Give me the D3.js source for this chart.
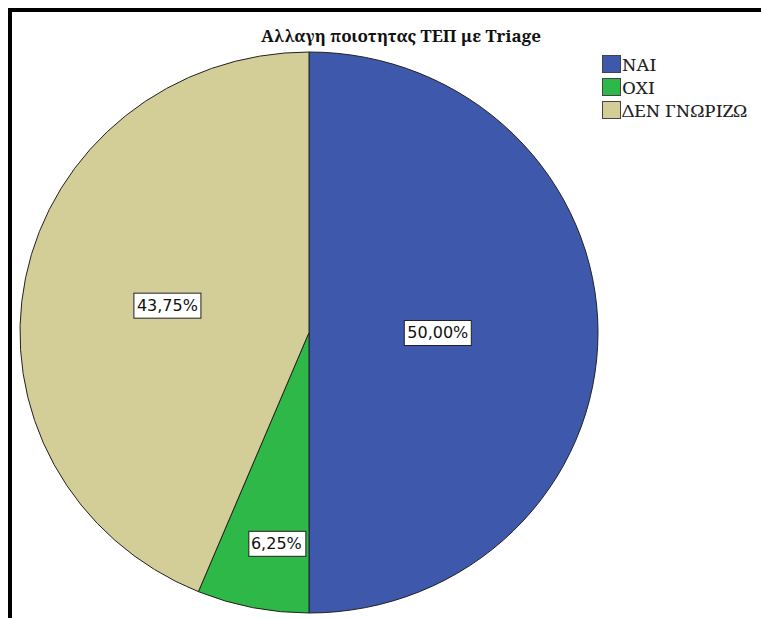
<!DOCTYPE html>
<html>
<head>
<meta charset="utf-8">
<script src="https://cdn.jsdelivr.net/npm/d3@7"></script>
<style>
  html, body { margin: 0; padding: 0; background: #fff; }
  svg { display: block; }
</style>
</head>
<body>
<svg id="chart" width="762" height="618"></svg>
<script>
// Survey answers: change in ED quality with Triage
const title = "Αλλαγη ποιοτητας ΤΕΠ με Triage";
const categories = ["ΝΑΙ", "ΟΧΙ", "ΔΕΝ ΓΝΩΡΙΖΩ"];
const percents = [50.00, 6.25, 43.75];
const colors = ["#3e58ac", "#2eb848", "#d3ce97"];

const svg = d3.select("#chart");
const W = 762, H = 618;
const serif = "'Noto Serif', 'DejaVu Serif', 'FreeSerif', 'Liberation Serif', serif";

// Frame (top and left rules)
svg.append("path")
  .attr("d", `M10,${H} V10 H761`)
  .attr("fill", "none")
  .attr("stroke", "#000")
  .attr("stroke-width", 4);

// Title, sized to span its slot above the pie
const titleText = svg.append("text")
  .attr("x", 401)
  .attr("y", 42)
  .attr("text-anchor", "middle")
  .attr("font-family", serif)
  .attr("font-weight", "bold")
  .attr("font-size", 15)
  .attr("fill", "#111")
  .text(title);
{
  const w = titleText.node().getBBox().width;
  const fs = Math.max(13, Math.min(17, 15 * 287 / w));
  titleText.attr("font-size", fs);
}

// Pie geometry (slightly elliptical plot area)
const cx = 309, cy = 332.5, rx = 289, ry = 280.5;
const sy = ry / rx;

const pie = d3.pie().sort(null).value(d => d);
const arcs = pie(percents);
const arc = d3.arc().innerRadius(0).outerRadius(rx);

const pieG = svg.append("g")
  .attr("transform", `translate(${cx},${cy}) scale(1,${sy})`);

pieG.selectAll("path.slice")
  .data(arcs)
  .join("path")
  .attr("class", "slice")
  .attr("d", arc)
  .attr("fill", (d, i) => colors[i])
  .attr("stroke", "#222")
  .attr("stroke-width", 1)
  .attr("vector-effect", "non-scaling-stroke");

// Percentage labels, placed near each sector's centroid
const fmt = v => d3.format(".2f")(v).replace(".", ",") + "%";
function labelPoint(d) {
  const theta = d.endAngle - d.startAngle;
  const mid = (d.startAngle + d.endAngle) / 2;
  let k = 4 * Math.sin(theta / 2) / (3 * theta) * 1.05;
  let a = mid;
  if (theta < 0.2 * Math.PI) { k = 0.76; a = d.startAngle + theta * 0.38; }
  return [cx + Math.sin(a) * rx * k, cy - Math.cos(a) * ry * k];
}

const labels = svg.append("g").selectAll("g")
  .data(arcs)
  .join("g")
  .attr("transform", d => { const p = labelPoint(d); return `translate(${p[0]},${p[1]})`; });

labels.append("rect")
  .attr("fill", "#fff")
  .attr("stroke", "#222")
  .attr("stroke-width", 1);

const texts = labels.append("text")
  .attr("text-anchor", "middle")
  .attr("dy", "0.36em")
  .attr("font-family", "'DejaVu Sans', sans-serif")
  .attr("font-size", 16)
  .attr("fill", "#111")
  .text(d => fmt(d.data));

texts.each(function() {
  const bb = this.getBBox();
  const padX = 3, h = 25;
  d3.select(this.parentNode).select("rect")
    .attr("x", Math.round(-bb.width / 2 - padX) + 0.5)
    .attr("y", -h / 2 + 0.5)
    .attr("width", Math.round(bb.width + 2 * padX))
    .attr("height", h);
});

// Legend
const legend = svg.append("g").attr("transform", "translate(602,55)");
const rows = legend.selectAll("g")
  .data(categories)
  .join("g")
  .attr("transform", (d, i) => `translate(0,${i * 23})`);

rows.append("rect")
  .attr("x", 0.5).attr("y", 0.5)
  .attr("width", 18).attr("height", 17)
  .attr("fill", (d, i) => colors[i])
  .attr("stroke", "#444")
  .attr("stroke-width", 1);

const legendText = rows.append("text")
  .attr("x", 20)
  .attr("y", 15.5)
  .attr("font-family", serif)
  .attr("font-size", 16.5)
  .attr("fill", "#222")
  .text(d => d);

// widen the compact legend lettering a little
legendText.each(function() {
  const w = this.getComputedTextLength();
  d3.select(this)
    .attr("textLength", w * 1.14)
    .attr("lengthAdjust", "spacingAndGlyphs");
});
</script>
</body>
</html>
